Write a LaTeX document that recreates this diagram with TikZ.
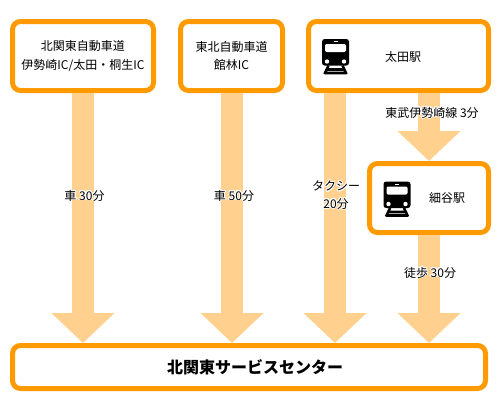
\documentclass[tikz,border=0pt]{standalone}
\usepackage{fontspec}
\setmainfont{Noto Sans CJK JP}
\usepackage[copies]{contour}
\contourlength{0.7pt}
\contournumber{16}
\usepackage{xcolor}
\usetikzlibrary{arrows.meta}
\definecolor{boxorange}{HTML}{FF9A00}
\definecolor{floworange}{HTML}{FFD08E}

\begin{document}
\begin{tikzpicture}[x=.75pt, y=-.75pt,
    place/.style={draw=boxorange, line width=3.75pt, rounded corners=6pt, fill=white, inner sep=0pt, font=\fontsize{9pt}{13.75pt}\selectfont, align=center},
    title/.style={font=\fontsize{12pt}{14pt}\selectfont\bfseries, inner sep=0pt},
    caption/.style={font=\fontsize{9pt}{13pt}\selectfont, align=center, inner sep=0pt},
    flow/.style={floworange, line width=16.5pt, -{Triangle[width=46pt, length=22.5pt]}},
    pics/train/.style={code={
        \fill[black, rounded corners=2pt] (-13.5,-17.5) rectangle (13.5,9);
        \fill[white, rounded corners=1pt] (-10.5,-12.5) rectangle (10.5,-4.5);
        \fill[white] (-2,-15.5) rectangle (2,-14.5);
        \fill[white] (-8.5,5) circle (2.2) (8.5,5) circle (2.2);
        \draw[black, line width=1.9pt] (-7,9) -- (-11,17.5) (7,9) -- (11,17.5) (-9,13) -- (9,13) (-11,16.5) -- (11,16.5);
    }}]

    \useasboundingbox (0,0) rectangle (500,400);

    % 1. Places
    \def\px{.75pt}
    \node[place, minimum width=141*\px, minimum height=69*\px] (kitakanto) at (83,56) {北関東自動車道\\伊勢崎IC/太田・桐生IC};
    \node[place, minimum width=102*\px, minimum height=69*\px] (tohoku) at (231.5,56) {東北自動車道\\館林IC};
    \node[place, minimum width=180*\px, minimum height=69*\px] (ota) at (398.5,56) {};
    \node[place, minimum width=119*\px, minimum height=69*\px] (hosoya) at (429,198) {};
    \node[place, minimum width=473*\px, minimum height=43*\px] (center) at (249,367) {};
    \node[title] (centername) at (255,367) {北関東サービスセンター};

    % 2. Flows
    \coordinate (taxitop) at (335,93);
    \coordinate (tobutop) at (429,93);
    \draw[flow] (kitakanto.south) -- (kitakanto.south |- center.north);
    \draw[flow] ([xshift=.4pt]tohoku.south) -- ([xshift=.4pt]tohoku.south |- center.north);
    \draw[flow] (taxitop) -- (taxitop |- center.north);
    \draw[flow] (hosoya.south) -- (hosoya.south |- center.north);
    \draw[flow] (tobutop) -- (hosoya.north);

    % 3. Stations
    \pic at (335.5,56.5) {train};
    \pic at (397,199) {train};
    \node[caption] (otaname) at (403,57) {太田駅};
    \node[caption] (hosoyaname) at (447,198) {細谷駅};

    % 4. Times
    \node[caption] (car30) at (84.5,196) {\contour{white}{車 30分}};
    \node[caption] (car50) at (234,196) {\contour{white}{車 50分}};
    \node[caption] (taxi) at (336,195.5) {\contour{white}{タクシー}\\\contour{white}{20分}};
    \node[caption] (tobu) at (432,113) {\contour{white}{東武伊勢崎線 3分}};
    \node[caption] (walk) at (430,273) {\contour{white}{徒歩 30分}};

\end{tikzpicture}
\end{document}
